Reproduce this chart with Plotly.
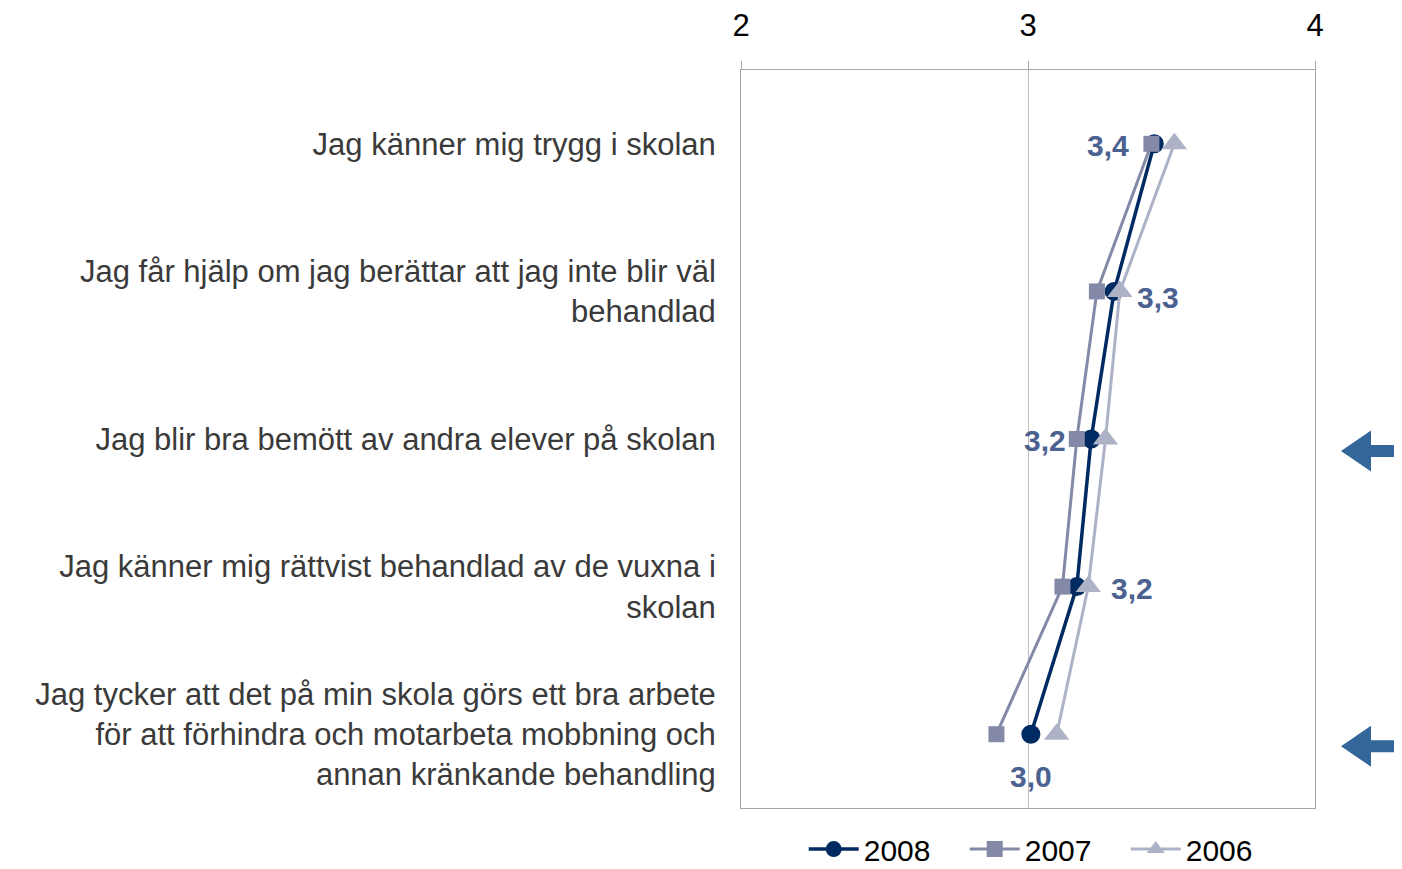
import plotly.graph_objects as go

categories = [
    "Jag känner mig trygg i skolan",
    "Jag får hjälp om jag berättar att jag inte blir väl<br>behandlad",
    "Jag blir bra bemött av andra elever på skolan",
    "Jag känner mig rättvist behandlad av de vuxna i<br>skolan",
    "Jag tycker att det på min skola görs ett bra arbete<br>för att förhindra och motarbeta mobbning och<br>annan kränkande behandling",
]
v2008 = [3.44, 3.30, 3.22, 3.17, 3.01]
v2007 = [3.43, 3.24, 3.17, 3.12, 2.89]
v2006 = [3.51, 3.32, 3.27, 3.21, 3.10]
x_ticks = [2, 3, 4]
arrow_rows = [2, 4]

# label placement style (pixel offsets)
label_xshift = [-46, 44, -46, 55, 0]
label_yshift = [-2, -6, -1, -2, -42]

FONT = "Liberation Sans, Arial, sans-serif"
C2008 = "#002a62"
C2007 = "#8389a7"
C2006 = "#adb2c6"
CLABEL = "#4b6190"
CARROW = "#336699"
CGRID = "#a6a6a6"

fig = go.Figure()
fig.add_trace(go.Scatter(
    x=v2008, y=categories, name="2008", mode="lines+markers",
    line=dict(color=C2008, width=3.5),
    marker=dict(symbol="circle", size=19, color=C2008),
))
fig.add_trace(go.Scatter(
    x=v2007, y=categories, name="2007", mode="lines+markers",
    line=dict(color=C2007, width=3),
    marker=dict(symbol="square", size=16, color=C2007),
))
fig.add_trace(go.Scatter(
    x=v2006, y=categories, name="2006", mode="lines+markers",
    line=dict(color=C2006, width=3),
    marker=dict(symbol="triangle-up", size=22, color=C2006),
))

annotations = []
for i, (cat, v) in enumerate(zip(categories, v2008)):
    annotations.append(dict(
        x=v, y=cat, xref="x", yref="y",
        text=f"{v:.1f}".replace(".", ","), showarrow=False,
        xshift=label_xshift[i], yshift=label_yshift[i],
        font=dict(family=FONT, size=30, color=CLABEL, weight="bold"),
    ))

n = len(categories)
shapes = []
for r in arrow_rows:
    shapes.append(dict(
        type="path", xref="paper", yref="paper",
        xsizemode="pixel", ysizemode="pixel",
        xanchor=(1341 - 741) / 574, yanchor=1 - (r + 0.5) / n,
        path="M0,-12 L30,8.5 L30,-6 L80,-6 L80,-18 L30,-18 L30,-32.5 Z",
        fillcolor=CARROW, line=dict(width=0),
    ))

fig.update_layout(
    width=1394, height=861,
    margin=dict(l=733, r=87, t=62, b=61, autoexpand=False),
    paper_bgcolor="white", plot_bgcolor="white",
    font=dict(family=FONT, size=30, color="black"),
    showlegend=True,
    legend=dict(
        orientation="h", x=0.53, xanchor="center", y=-0.0556, yanchor="middle",
        font=dict(family=FONT, size=30, color="black"),
        itemwidth=50, entrywidth=96, entrywidthmode="pixels",
        traceorder="normal", bgcolor="rgba(0,0,0,0)",
    ),
    annotations=annotations,
    shapes=shapes,
)
fig.update_xaxes(
    side="top", range=[2, 4], tickvals=x_ticks, ticktext=[str(t) for t in x_ticks],
    ticks="outside", ticklen=8, tickcolor=CGRID, tickwidth=1,
    ticklabelstandoff=13, automargin=False,
    showgrid=True, gridcolor="#c0c0c0", gridwidth=1,
    showline=True, linecolor=CGRID, linewidth=1, mirror=True,
    zeroline=False, tickfont=dict(size=31, color="black"),
)
fig.update_yaxes(
    type="category", categoryorder="array", categoryarray=categories,
    range=[n - 0.5, -0.5], automargin=False,
    showgrid=False, ticks="", ticklabelstandoff=18,
    showline=True, linecolor=CGRID, linewidth=1, mirror=True,
    tickfont=dict(size=31, color="#3a3a3a"),
)

fig.write_html("out.html")
